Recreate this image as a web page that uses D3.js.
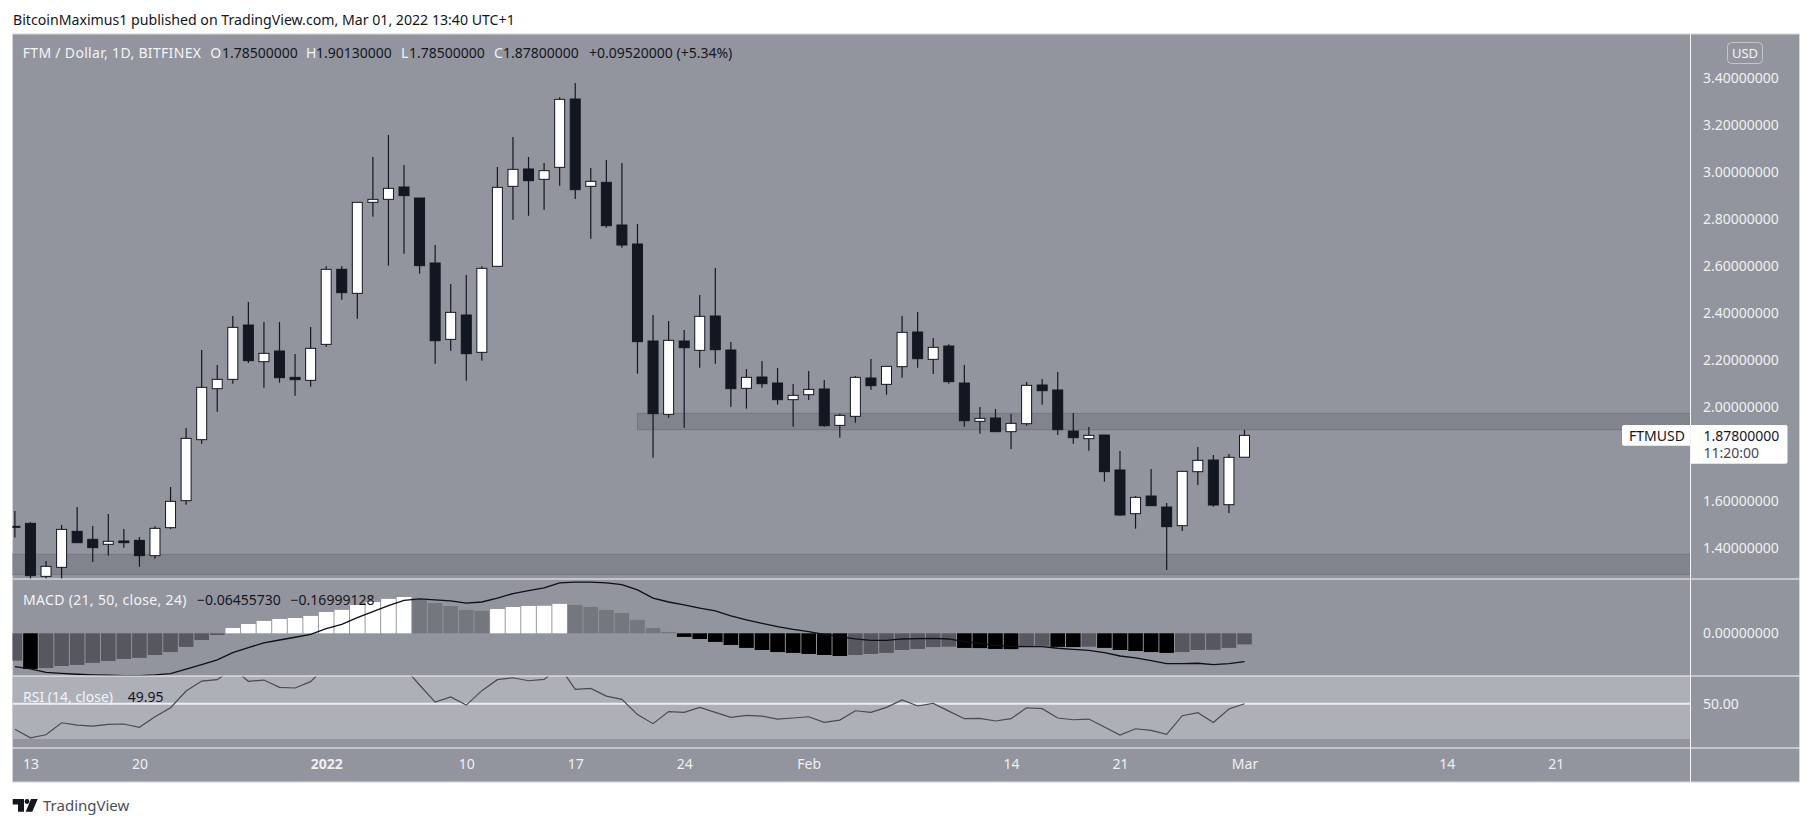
<!DOCTYPE html>
<html lang="en">

<head>
    <meta charset="utf-8">
    <title>FTM / Dollar</title>
    <script type="text/javascript" src="https://d3js.org/d3.v7.min.js"></script>
    <style type="text/css">
        body {
            margin: 0;
            background: #fff;
        }

        text {
            font-family: "Noto Sans", sans-serif;
        }

        .axis path,
        .axis line {
            display: none;
        }

        .axis text {
            font-family: "Noto Sans", sans-serif;
            font-size: 14px;
            fill: #eef0f4;
        }
    </style>
</head>

<body>
    <script type="text/javascript">

        // candles, one per day, from Dec 12 2021 to Mar 1 2022
        var open = [1.491, 1.5036, 1.278, 1.3164, 1.4696, 1.4356, 1.4143, 1.4285, 1.4313, 1.3661,
            1.4852, 1.6001, 1.8597, 2.0767, 2.1164, 2.3476, 2.1916, 2.237, 2.1249, 2.1121,
            2.2653, 2.5845, 2.4824, 2.8696, 2.8824, 2.9349, 2.888, 2.6115, 2.2866, 2.3902,
            2.2313, 2.5973, 2.9377, 3.0115, 2.9675, 3.0185, 3.3093, 2.9377, 2.9547, 2.7732,
            2.6923, 2.2795, 1.9675, 2.2795, 2.2398, 2.3859, 2.2412, 2.0781, 2.1263, 2.1008,
            2.0299, 2.0511, 2.0753, 1.9206, 1.9589, 2.1221, 2.0951, 2.1703, 2.3178, 2.2015,
            2.2582, 2.1008, 1.9377, 1.9519, 1.8937, 1.9277, 2.0923, 2.071, 1.8965, 1.8639,
            1.8795, 1.7306, 1.5448, 1.6199, 1.5731, 1.4937, 1.7235, 1.7731, 1.583, 1.785];
        var close = [1.491, 1.281, 1.3207, 1.478, 1.4214, 1.4001, 1.4271, 1.4214, 1.3661, 1.4824,
            1.5973, 1.8653, 2.0824, 2.1164, 2.3377, 2.1958, 2.227, 2.1235, 2.115, 2.2483,
            2.5845, 2.4852, 2.8696, 2.8824, 2.9292, 2.898, 2.6001, 2.2809, 2.4015, 2.2256,
            2.5888, 2.9334, 3.01, 2.9618, 3.0044, 3.3079, 2.9235, 2.959, 2.7703, 2.688,
            2.2767, 1.9703, 2.2823, 2.2511, 2.3845, 2.2426, 2.0767, 2.1249, 2.098, 2.0299,
            2.0483, 2.0738, 1.9193, 1.9632, 2.1249, 2.0894, 2.1717, 2.3164, 2.2043, 2.2526,
            2.1065, 1.9405, 1.9504, 1.8937, 1.9292, 2.0909, 2.0682, 1.9022, 1.8682, 1.8781,
            1.7235, 1.5391, 1.6143, 1.5788, 1.4894, 1.7249, 1.7717, 1.5816, 1.7845, 1.878];
        var high = [1.556, 1.5093, 1.3434, 1.4966, 1.5731, 1.4923, 1.5434, 1.4795, 1.4455, 1.4909,
            1.6582, 1.9093, 2.2412, 2.1774, 2.3859, 2.4455, 2.3604, 2.3604, 2.2242, 2.3391,
            2.5973, 2.5973, 2.8696, 3.0625, 3.1561, 3.0285, 2.888, 2.688, 2.5221, 2.5604,
            2.5973, 3.02, 3.1476, 3.0625, 3.037, 3.3164, 3.3774, 3.0157, 3.0497, 3.037,
            2.7774, 2.3902, 2.3646, 2.3263, 2.4753, 2.5902, 2.2753, 2.1604, 2.1944, 2.1646,
            2.0965, 2.1519, 2.1136, 1.9703, 2.1306, 2.2029, 2.1717, 2.3859, 2.4029, 2.2923,
            2.2653, 2.1774, 1.9987, 1.9902, 1.9689, 2.105, 2.1178, 2.1476, 1.9731, 1.9136,
            1.8795, 1.8114, 1.6199, 1.7348, 1.5902, 1.7249, 1.8284, 1.7944, 1.7987, 1.9013];
        var low = [1.443, 1.262, 1.267, 1.267, 1.4214, 1.3391, 1.3661, 1.4001, 1.3192, 1.3533,
            1.4795, 1.5831, 1.8426, 1.9788, 2.098, 2.1859, 2.0809, 2.1022, 2.0469, 2.0852,
            2.2554, 2.4554, 2.3746, 2.8086, 2.6001, 2.6512, 2.5661, 2.1831, 2.2384, 2.1107,
            2.1958, 2.5973, 2.7958, 2.8129, 2.8384, 2.9406, 2.8838, 2.715, 2.7618, 2.6767,
            2.1405, 1.7831, 1.9533, 1.9107, 2.166, 2.1831, 2.0001, 1.9916, 2.0809, 2.0086,
            1.915, 2.0284, 1.915, 1.8682, 1.932, 2.0724, 2.0511, 2.1235, 2.166, 2.1391,
            2.098, 1.915, 1.8852, 1.8937, 1.8199, 1.9193, 2.0086, 1.8795, 1.8426, 1.8128,
            1.6809, 1.5348, 1.4809, 1.5788, 1.305, 1.471, 1.6667, 1.5745, 1.5476, 1.785];

        // grey price zones, [top, bottom, index where the zone starts]
        var zones = [[1.9717, 1.9022, 40], [1.3717, 1.2866, -1]];

        var macdHist = [-0.159, -0.207, -0.202, -0.19, -0.184, -0.172, -0.161, -0.149, -0.143, -0.126,
            -0.109, -0.079, -0.039, -0.01, 0.031, 0.054, 0.072, 0.083, 0.089, 0.101,
            0.124, 0.136, 0.165, 0.182, 0.2, 0.211, 0.194, 0.176, 0.159, 0.136,
            0.13, 0.141, 0.153, 0.159, 0.16, 0.171, 0.165, 0.153, 0.136, 0.118,
            0.078, 0.031, 0.008, -0.021, -0.033, -0.05, -0.068, -0.085, -0.097, -0.109,
            -0.114, -0.12, -0.126, -0.132, -0.126, -0.12, -0.114, -0.097, -0.091, -0.08,
            -0.078, -0.085, -0.086, -0.091, -0.092, -0.074, -0.073, -0.079, -0.08, -0.078,
            -0.085, -0.097, -0.103, -0.109, -0.114, -0.109, -0.097, -0.096, -0.085, -0.0646];
        var macdLine = [-0.194, -0.207, -0.227, -0.233, -0.238, -0.242, -0.244, -0.246, -0.246, -0.242,
            -0.234, -0.209, -0.182, -0.155, -0.112, -0.083, -0.056, -0.039, -0.023, -0.006,
            0.027, 0.052, 0.091, 0.126, 0.161, 0.192, 0.2, 0.194, 0.188, 0.176,
            0.182, 0.205, 0.231, 0.248, 0.264, 0.293, 0.297, 0.298, 0.293, 0.283,
            0.252, 0.205, 0.182, 0.165, 0.147, 0.13, 0.101, 0.078, 0.058, 0.039,
            0.023, 0.01, -0.006, -0.019, -0.033, -0.041, -0.041, -0.033, -0.031, -0.029,
            -0.033, -0.048, -0.058, -0.07, -0.076, -0.078, -0.078, -0.087, -0.093, -0.099,
            -0.112, -0.132, -0.143, -0.159, -0.176, -0.176, -0.174, -0.182, -0.176, -0.165];
        var rsi = [35.5, 30.7, 32.4, 39.2, 37.9, 37.3, 38.3, 38.5, 36.6, 42.6,
            47.7, 57.2, 62.8, 63.6, 70, 62.7, 63.4, 59.3, 58.9, 62.5,
            71.3, 74, 75, 74, 73, 70.6, 60.6, 50.9, 53.8, 49.2,
            57.4, 63.6, 64.7, 63, 63.8, 71, 58.1, 58.7, 54.3, 52.5,
            43.8, 38.7, 45.5, 45.1, 47.9, 45.1, 42.3, 43.4, 43, 41.3,
            41.9, 42.6, 39.4, 40.7, 46, 45.1, 47.9, 52.1, 48.7, 50.2,
            45.8, 41.5, 41.7, 40.2, 41.5, 47.7, 47.2, 41.9, 40.9, 41.3,
            36.8, 32.2, 35.8, 34.9, 32.6, 43.2, 44.9, 39.4, 47, 49.95];

        // axis ticks
        var priceTicks = [1.4, 1.6, 2.0, 2.2, 2.4, 2.6, 2.8, 3.0, 3.2, 3.4];
        var macdTicks = [0];
        var rsiTicks = [50];
        var dayTicks = [1, 8, 20, 29, 36, 43, 51, 64, 71, 79, 92, 99];
        var dayLabels = ["13", "20", "2022", "10", "17", "24", "Feb", "14", "21", "Mar", "14", "21"];

        // layout
        var w = 1813;
        var h = 827;
        var left = 12.5;
        var plotRight = 1690.5;
        var right = 1799.5;
        var top_ = 34;
        var priceBottom = 579;
        var macdBottom = 676;
        var rsiBottom = 748;
        var bottom = 782;
        var candleWidth = 10;

        var dark = "#131722";
        var bg = "#93959e";

        var svg = d3.select("body")
            .append("svg")
            .attr("width", w)
            .attr("height", h)
            .style("display", "block");

        var days = d3.range(open.length);

        // scales
        var xScale = d3.scaleLinear().domain([0, 79]).range([14.9, 1244.5]);
        var yScale = d3.scaleLinear().domain([1.4, 3.4]).range([547.7, 77.7]);
        var macdScale = d3.scaleLinear().domain([0, 0.2]).range([633.3, 598.9]);
        var rsiScale = d3.scaleLinear().domain([30, 50]).range([739, 703.7]);

        // background
        svg.append("rect")
            .attr("x", left)
            .attr("y", top_)
            .attr("width", right - left)
            .attr("height", bottom - top_)
            .attr("fill", bg)
            .attr("stroke", "#d5d7e0")
            .attr("stroke-width", 1);

        // clip paths for the panes
        var defs = svg.append("defs");
        function addClip(id, y0, y1) {
            defs.append("clipPath").attr("id", id)
                .append("rect")
                .attr("x", left)
                .attr("y", y0)
                .attr("width", plotRight - left)
                .attr("height", y1 - y0);
        }
        addClip("clipPrice", top_, priceBottom);
        addClip("clipMacd", priceBottom, macdBottom);
        addClip("clipRsi", macdBottom, rsiBottom);

        // price pane
        var price = svg.append("g").attr("clip-path", "url(#clipPrice)");

        price.selectAll("rect.zone")
            .data(zones)
            .enter()
            .append("rect")
            .attr("class", "zone")
            .attr("x", function (d) { return xScale(d[2]); })
            .attr("y", function (d) { return yScale(d[0]); })
            .attr("width", function (d) { return plotRight + 10 - xScale(d[2]); })
            .attr("height", function (d) { return yScale(d[1]) - yScale(d[0]); })
            .attr("fill", "#82848d")
            .attr("stroke", "#74767f")
            .attr("stroke-width", 1);

        // wicks
        price.selectAll("line.wick")
            .data(days)
            .enter()
            .append("line")
            .attr("class", "wick")
            .attr("x1", function (d) { return xScale(d); })
            .attr("x2", function (d) { return xScale(d); })
            .attr("y1", function (d) { return yScale(high[d]); })
            .attr("y2", function (d) { return yScale(low[d]); })
            .attr("stroke", dark)
            .attr("stroke-width", 1.2);

        // bodies
        price.selectAll("rect.body")
            .data(days)
            .enter()
            .append("rect")
            .attr("class", "body")
            .attr("x", function (d) { return xScale(d) - candleWidth / 2; })
            .attr("y", function (d) { return yScale(Math.max(open[d], close[d])); })
            .attr("width", candleWidth)
            .attr("height", function (d) {
                return Math.max(1, Math.abs(yScale(open[d]) - yScale(close[d])));
            })
            .attr("fill", function (d) { return close[d] >= open[d] && d > 0 ? "#ffffff" : dark; })
            .attr("stroke", dark)
            .attr("stroke-width", 1);

        // macd pane
        var macd = svg.append("g").attr("clip-path", "url(#clipMacd)");

        macd.selectAll("rect")
            .data(days)
            .enter()
            .append("rect")
            .attr("x", function (d) { return xScale(d) - 7.3; })
            .attr("y", function (d) { return Math.min(macdScale(macdHist[d]), macdScale(0)); })
            .attr("width", 14.6)
            .attr("height", function (d) { return Math.abs(macdScale(macdHist[d]) - macdScale(0)); })
            .attr("fill", function (d) {
                var rising = d === 0 || macdHist[d] > macdHist[d - 1];
                if (macdHist[d] >= 0) return rising ? "#ffffff" : "#75777f";
                return rising ? "#57585f" : "#000000";
            });

        macd.append("path")
            .datum(days)
            .attr("fill", "none")
            .attr("stroke", "#0d0f14")
            .attr("stroke-width", 1.3)
            .attr("d", d3.line()
                .x(function (d) { return xScale(d); })
                .y(function (d) { return macdScale(macdLine[d]); }));

        // rsi pane
        var rsiPane = svg.append("g").attr("clip-path", "url(#clipRsi)");

        rsiPane.append("rect")
            .attr("x", left)
            .attr("y", macdBottom)
            .attr("width", plotRight - left)
            .attr("height", rsiScale(30) - macdBottom)
            .attr("fill", "#aeb0b8");

        rsiPane.append("line")
            .attr("x1", left)
            .attr("x2", plotRight)
            .attr("y1", rsiScale(50))
            .attr("y2", rsiScale(50))
            .attr("stroke", "#eceded")
            .attr("stroke-width", 2);

        rsiPane.append("path")
            .datum(days)
            .attr("fill", "none")
            .attr("stroke", "#4a4b50")
            .attr("stroke-width", 1.2)
            .attr("d", d3.line()
                .x(function (d) { return xScale(d); })
                .y(function (d) { return rsiScale(rsi[d]); }));

        // pane separators
        [priceBottom, macdBottom, rsiBottom].forEach(function (y) {
            svg.append("line")
                .attr("x1", left)
                .attr("x2", right)
                .attr("y1", y)
                .attr("y2", y)
                .attr("stroke", "#f4f5f7")
                .attr("stroke-width", 1);
        });
        svg.append("line")
            .attr("x1", plotRight)
            .attr("x2", plotRight)
            .attr("y1", top_)
            .attr("y2", bottom)
            .attr("stroke", "#f4f5f7")
            .attr("stroke-width", 1);

        // axes
        svg.append("g")
            .attr("class", "axis")
            .attr("transform", "translate(" + plotRight + ",0)")
            .call(d3.axisRight(yScale)
                .tickValues(priceTicks)
                .tickSize(0)
                .tickPadding(12.5)
                .tickFormat(d3.format(".8f")));

        svg.append("g")
            .attr("class", "axis")
            .attr("transform", "translate(" + plotRight + ",0)")
            .call(d3.axisRight(macdScale)
                .tickValues(macdTicks)
                .tickSize(0)
                .tickPadding(12.5)
                .tickFormat(d3.format(".8f")));

        svg.append("g")
            .attr("class", "axis")
            .attr("transform", "translate(" + plotRight + ",0)")
            .call(d3.axisRight(rsiScale)
                .tickValues(rsiTicks)
                .tickSize(0)
                .tickPadding(12.5)
                .tickFormat(d3.format(".2f")));

        var xAxis = svg.append("g")
            .attr("class", "axis")
            .attr("transform", "translate(0," + (rsiBottom + 11) + ")")
            .call(d3.axisBottom(xScale)
                .tickValues(dayTicks)
                .tickSize(0)
                .tickPadding(0)
                .tickFormat(function (d, i) { return dayLabels[i]; }));
        xAxis.selectAll("text")
            .style("font-weight", function (d, i) { return dayLabels[i] === "2022" ? "700" : "400"; });

        // small text helper
        function label(x, y, txt, color, size, anchor) {
            return svg.append("text")
                .attr("x", x)
                .attr("y", y)
                .attr("fill", color)
                .attr("font-size", size || 14)
                .attr("text-anchor", anchor || "start")
                .text(txt);
        }

        var light = "#f2f4f8";

        // header and legends
        label(13, 24.5, "BitcoinMaximus1 published on TradingView.com, Mar 01, 2022 13:40 UTC+1", "#131722", 14.15);

        label(22.7, 58, "FTM / Dollar, 1D, BITFINEX", light).attr("letter-spacing", 0.32);
        label(210.3, 58, "O", light);
        label(222, 58, "1.78500000", dark);
        label(306, 58, "H", light);
        label(316, 58, "1.90130000", dark);
        label(401, 58, "L", light);
        label(409, 58, "1.78500000", dark);
        label(494, 58, "C", light);
        label(503, 58, "1.87800000", dark);
        label(589, 58, "+0.09520000 (+5.34%)", dark);

        label(23, 605, "MACD (21, 50, close, 24)", light).attr("letter-spacing", 0.32);
        label(197, 605, "\u22120.06455730", dark);
        label(290.6, 605, "\u22120.16999128", dark);

        label(23, 701.7, "RSI (14, close)", light);
        label(127.8, 701.7, "49.95", dark);

        // USD button
        svg.append("rect")
            .attr("x", 1727.5)
            .attr("y", 42.5)
            .attr("width", 35)
            .attr("height", 21)
            .attr("rx", 4)
            .attr("fill", "none")
            .attr("stroke", "#c4c6cc");
        label(1745, 58, "USD", light, 13, "middle");

        // last price tag
        svg.append("path")
            .attr("d", "M1690,425H1624a2,2 0 0 0 -2,2V443.7a2,2 0 0 0 2,2H1690Z")
            .attr("fill", "#fff");
        svg.append("path")
            .attr("d", "M1691,425H1785.5a2,2 0 0 1 2,2V461.7a2,2 0 0 1 -2,2H1691Z")
            .attr("fill", "#fff");
        label(1629, 440.5, "FTMUSD", dark);
        label(1703.5, 440.5, "1.87800000", dark);
        label(1703.5, 458, "11:20:00", "#434651");

        // footer logo
        svg.append("path")
            .attr("d", "M12.7,799H24V811.7H18V804.5H12.7ZM31,799H37.7L32.3,811.7H25.7Z")
            .attr("fill", dark);
        svg.append("circle")
            .attr("cx", 27)
            .attr("cy", 801.5)
            .attr("r", 2.4)
            .attr("fill", dark);
        label(43, 811, "TradingView", "#4a4e5a", 15);
    </script>
</body>
</html>
